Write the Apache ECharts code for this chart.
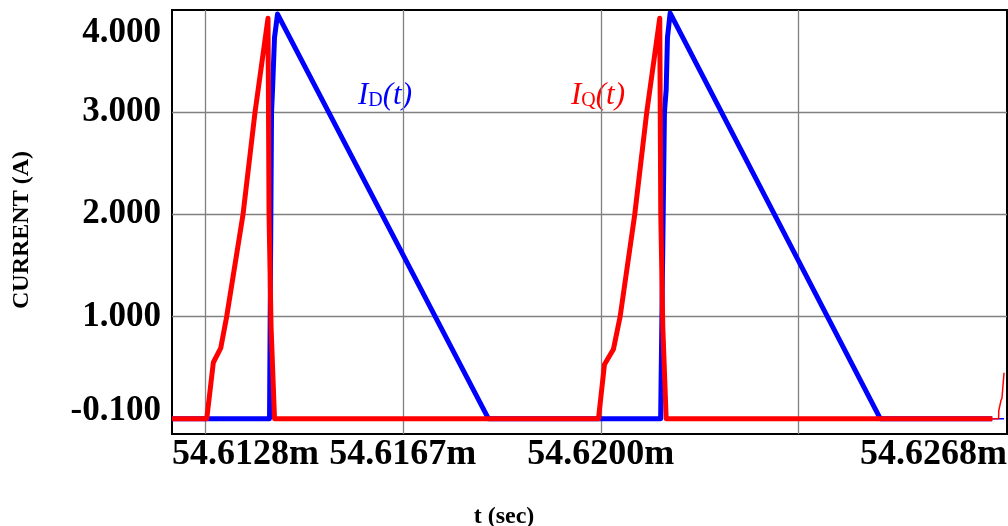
<!DOCTYPE html>
<html>
<head>
<meta charset="utf-8">
<script src="https://cdn.jsdelivr.net/npm/echarts@6/dist/echarts.min.js"></script>
<style>
  html, body { margin: 0; padding: 0; background: #ffffff; }
  #chart { width: 1008px; height: 526px; }
</style>
</head>
<body>
<div id="chart"></div>
<script>
// Time axis in ms, current in A
const tMin = 54.61278;
const tMax = 54.62684;
const yMin = -0.15;
const yMax = 4.0;

// Switch current I_Q(t)
const qTime = [54.61278, 54.613365, 54.613476, 54.613600, 54.613701, 54.613976, 54.614178, 54.614397,
               54.614414, 54.614448, 54.614506,
               54.619961, 54.620062, 54.620213, 54.620326, 54.620572, 54.620774, 54.620993,
               54.621010, 54.621044, 54.621101, 54.626592];
const qCurrent = [0, 0, 0.55, 0.69, 1.0, 2.0, 3.0, 3.92,
                  2.0, 0.9, 0,
                  0, 0.53, 0.68, 1.0, 2.0, 3.0, 3.92,
                  2.0, 0.9, 0, 0];
// start of the next switching cycle (thin trace)
const qTailTime = [54.626592, 54.626698, 54.626702, 54.626739, 54.626755, 54.626790];
const qTailCurrent = [0, 0, 0.08, 0.18, 0.20, 0.45];

// Diode current I_D(t)
const dTime = [54.61278, 54.614422, 54.614456, 54.614473, 54.614506, 54.614557, 54.618108,
               54.621008, 54.621072, 54.621101, 54.621123, 54.621168, 54.624706, 54.626592];
const dCurrent = [0, 0, 3.0, 3.22, 3.73, 3.96, 0,
                  0, 3.0, 3.22, 3.73, 3.97, 0, 0];
const dTailTime = [54.626592, 54.626790];
const dTailCurrent = [0, 0];

// Axis ticks and labels
const xGridValues = [54.613333, 54.616667, 54.62, 54.623333];
const xLabelValues = [tMin, 54.616667, 54.62, tMax];
const yGridValues = [1, 2, 3];
const yLabelValues = [-0.1, 1, 2, 3, 4];

const zip = (xs, ys) => xs.map((x, i) => [x, ys[i]]);

const serif = 'Liberation Serif, Times New Roman, serif';
const gridColor = '#808080';

const chart = echarts.init(document.getElementById('chart'), null, { renderer: 'canvas' });

const labelFont = { fontFamily: serif, fontWeight: 'bold', fontSize: 35, color: '#000000' };

chart.setOption({
  animation: false,
  backgroundColor: '#ffffff',
  grid: {
    left: 172, top: 10, width: 835, height: 424,
    show: true, borderColor: '#000000', borderWidth: 2,
    backgroundColor: 'transparent',
    outerBoundsMode: 'none', containLabel: false
  },
  xAxis: {
    type: 'value', min: tMin, max: tMax,
    axisLine: { show: false },
    axisTick: { show: false, customValues: xGridValues },
    splitLine: { show: true, lineStyle: { color: gridColor, width: 1.3 } },
    axisLabel: Object.assign({
      customValues: xLabelValues,
      formatter: v => v.toFixed(4) + 'm',
      alignMinLabel: 'left', alignMaxLabel: 'right',
      margin: 3, hideOverlap: false
    }, labelFont, { fontSize: 36 }),
    name: 't (sec)', nameLocation: 'middle', nameGap: 71,
    nameTextStyle: {
      fontFamily: serif, fontWeight: 'bold', fontSize: 24, color: '#000000',
      padding: [0, 171, 0, 0]
    }
  },
  yAxis: {
    type: 'value', min: yMin, max: yMax,
    axisLine: { show: false },
    axisTick: { show: false, customValues: yGridValues },
    splitLine: { show: true, lineStyle: { color: gridColor, width: 1.3 } },
    axisLabel: {
      customValues: yLabelValues,
      formatter: v => {
        const s = v.toFixed(3);
        if (v === yLabelValues[yLabelValues.length - 1]) return '{top|' + s + '}';
        if (v === yLabelValues[0]) return '{bot|' + s + '}';
        return '{n|' + s + '}';
      },
      rich: {
        n: Object.assign({}, labelFont),
        top: Object.assign({ padding: [46, 0, 0, 0] }, labelFont),
        bot: Object.assign({ padding: [0, 0, 36, 0] }, labelFont)
      },
      margin: 11, hideOverlap: false
    },
    name: 'CURRENT (A)', nameLocation: 'middle', nameGap: 138, nameRotate: 90,
    nameTextStyle: {
      fontFamily: serif, fontWeight: 'bold', fontSize: 24, color: '#000000',
      padding: [0, 16, 0, 0]
    }
  },
  graphic: [
    {
      type: 'text', left: 358, top: 80, silent: true,
      style: {
        text: '{i|I}{s|D}{i|(t)}',
        rich: {
          i: { fontFamily: serif, fontStyle: 'italic', fontSize: 31, fill: '#0000ff' },
          s: { fontFamily: serif, fontSize: 20, fill: '#0000ff', verticalAlign: 'bottom' }
        }
      }
    },
    {
      type: 'text', left: 571, top: 80, silent: true,
      style: {
        text: '{i|I}{s|Q}{i|(t)}',
        rich: {
          i: { fontFamily: serif, fontStyle: 'italic', fontSize: 31, fill: '#ff0000' },
          s: { fontFamily: serif, fontSize: 20, fill: '#ff0000', verticalAlign: 'bottom' }
        }
      }
    }
  ],
  series: [
    {
      name: 'I_D', type: 'line', data: zip(dTime, dCurrent),
      symbol: 'none', lineStyle: { color: '#0000ff', width: 5, join: 'round' }, z: 2
    },
    {
      name: 'I_D tail', type: 'line', data: zip(dTailTime, dTailCurrent),
      symbol: 'none', lineStyle: { color: '#0000ff', width: 1.5 }, z: 2
    },
    {
      name: 'I_Q', type: 'line', data: zip(qTime, qCurrent),
      symbol: 'none', lineStyle: { color: '#ff0000', width: 5, join: 'round' }, z: 3
    },
    {
      name: 'I_Q tail', type: 'line', data: zip(qTailTime, qTailCurrent),
      symbol: 'none', lineStyle: { color: '#ff0000', width: 1.5 }, z: 3
    }
  ]
});
</script>
</body>
</html>
